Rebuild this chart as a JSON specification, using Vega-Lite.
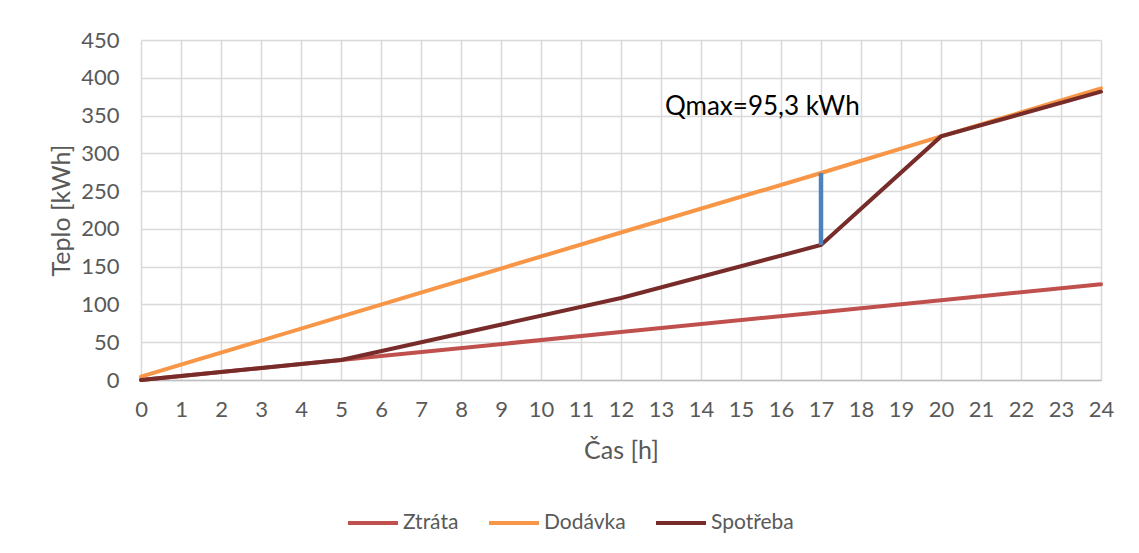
{
  "$schema": "https://vega.github.io/schema/vega-lite/v6.json",
  "width": 960,
  "height": 340,
  "autosize": "none",
  "padding": {"left": 141, "top": 40, "right": 38, "bottom": 173},
  "background": "white",
  "config": {
    "font": "Lato",
    "view": {"stroke": null},
    "axis": {
      "gridColor": "#D9D9D9",
      "gridWidth": 1.5,
      "labelColor": "#595959",
      "titleColor": "#595959",
      "labelFontSize": 22,
      "titleFontSize": 25,
      "labelFont": "Lato",
      "titleFont": "Lato",
      "titleFontWeight": "normal",
      "labelOverlap": false,
      "ticks": false
    }
  },
  "datasets": {
    "lines": [
      {"t": 0, "series": "Ztráta", "q": 0},
      {"t": 5, "series": "Ztráta", "q": 26.4},
      {"t": 12, "series": "Ztráta", "q": 63.4},
      {"t": 17, "series": "Ztráta", "q": 89.8},
      {"t": 20, "series": "Ztráta", "q": 105.6},
      {"t": 24, "series": "Ztráta", "q": 126.7},
      {"t": 0, "series": "Dodávka", "q": 4.4},
      {"t": 5, "series": "Dodávka", "q": 83.9},
      {"t": 12, "series": "Dodávka", "q": 195.2},
      {"t": 17, "series": "Dodávka", "q": 274.0},
      {"t": 20, "series": "Dodávka", "q": 322.4},
      {"t": 24, "series": "Dodávka", "q": 386.0},
      {"t": 0, "series": "Spotřeba", "q": 0},
      {"t": 5, "series": "Spotřeba", "q": 26.4},
      {"t": 12, "series": "Spotřeba", "q": 108.5},
      {"t": 17, "series": "Spotřeba", "q": 178.7},
      {"t": 20, "series": "Spotřeba", "q": 322.4},
      {"t": 24, "series": "Spotřeba", "q": 381.6}
    ],
    "qmax": [{"t": 17, "q": 178.7, "q2": 274.0}],
    "label": [{"t": 13.1, "q": 361, "text": "Qmax=95,3 kWh"}]
  },
  "encoding": {
    "x": {
      "field": "t", "type": "quantitative",
      "scale": {"domain": [0, 24], "nice": false},
      "axis": {
        "title": "Čas [h]",
        "values": [0,1,2,3,4,5,6,7,8,9,10,11,12,13,14,15,16,17,18,19,20,21,22,23,24],
        "labelPadding": 19,
        "titlePadding": 18,
        "domainColor": "#BFBFBF",
        "domainWidth": 1.5,
        "labelFlush": false
      }
    },
    "y": {
      "field": "q", "type": "quantitative",
      "scale": {"domain": [0, 450], "nice": false},
      "axis": {
        "title": "Teplo [kWh]",
        "values": [0,50,100,150,200,250,300,350,400,450],
        "labelPadding": 22,
        "titlePadding": 6,
        "labelFlush": false,
        "domain": false
      }
    }
  },
  "layer": [
    {
      "data": {"name": "lines"},
      "mark": {"type": "line", "strokeWidth": 4, "strokeCap": "round"},
      "encoding": {
        "color": {
          "field": "series", "type": "nominal",
          "scale": {
            "domain": ["Ztráta", "Dodávka", "Spotřeba"],
            "range": ["#C0504D", "#F79646", "#772C2A"]
          },
          "legend": {
            "title": null,
            "orient": "none",
            "direction": "horizontal",
            "legendX": 205,
            "legendY": 456,
            "symbolType": "stroke",
            "symbolSize": 2500,
            "symbolStrokeWidth": 4,
            "labelFontSize": 21,
            "labelColor": "#595959",
            "labelFont": "Lato",
            "labelOffset": 3,
            "columnPadding": 22
          }
        },
        "order": {"field": "t", "type": "quantitative"}
      }
    },
    {
      "data": {"name": "qmax"},
      "mark": {"type": "rule", "color": "#4F81BD", "strokeWidth": 4.5},
      "encoding": {
        "y2": {"field": "q2"}
      }
    },
    {
      "data": {"name": "label"},
      "mark": {"type": "text", "align": "left", "baseline": "middle", "fontSize": 26, "font": "Lato", "color": "#000000"},
      "encoding": {
        "text": {"field": "text"}
      }
    }
  ]
}
